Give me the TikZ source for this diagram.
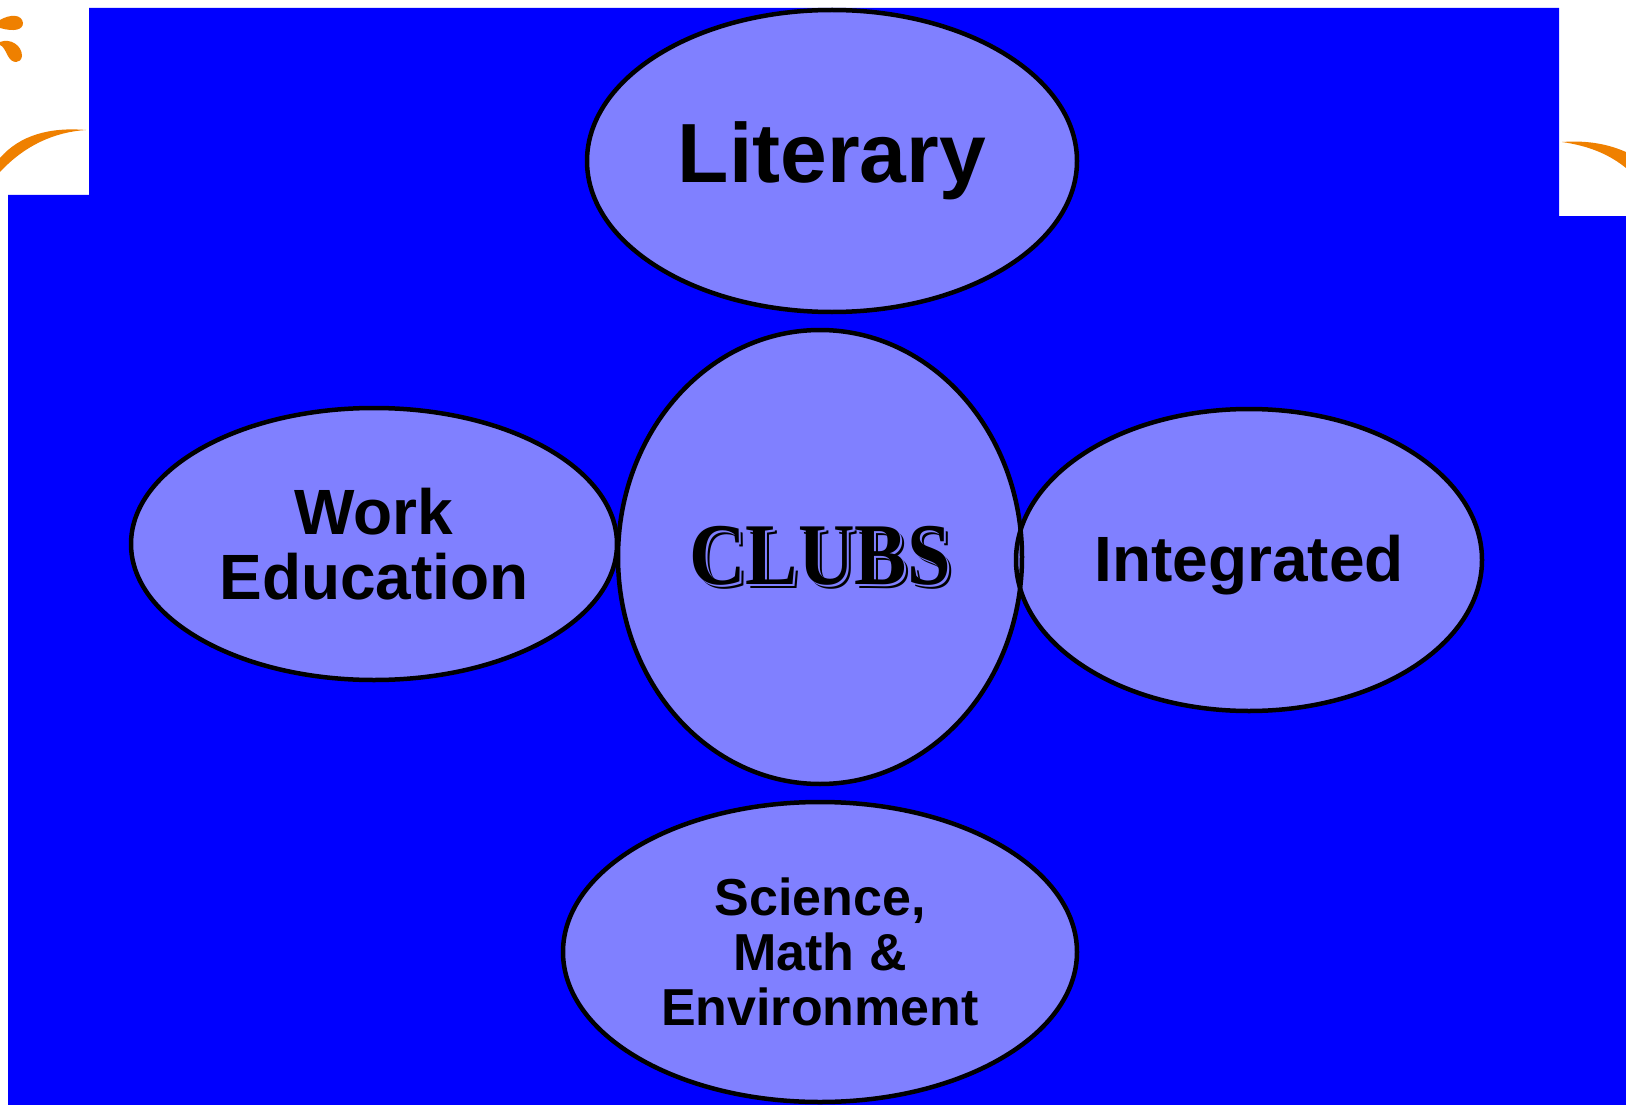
\documentclass[tikz,border=0pt]{standalone}
\usepackage{fontspec}
\setmainfont{Liberation Sans}
\newfontfamily\clubsfont{Liberation Serif}
\usetikzlibrary{shapes.geometric}
\definecolor{bgblue}{HTML}{0000FF}
\definecolor{ellfill}{HTML}{8080FF}
\definecolor{orn}{HTML}{EF8000}
\newcommand{\clubsword}{\scalebox{0.89}[1]{CLUBS}}
\begin{document}
\begin{tikzpicture}[x=1pt,y=-1pt,
  ell/.style={ellipse, fill=ellfill, inner sep=0pt, align=center, text=black},
  outline/.style={line width=4.5pt, draw=black},
  clubstyle/.style={inner sep=0pt, font=\clubsfont\bfseries\fontsize{88}{90}\selectfont}]
\useasboundingbox (0,0) rectangle (1626,1105);
\fill[white] (0,0) rectangle (1626,1105);
% orange ornaments of the slide background
\fill[orn] (0,20) .. controls (10,14) and (22,14) .. (23,23) .. controls (23,30) and (14,32) .. (0,28) -- cycle;
\fill[orn] (0,42) .. controls (10,38) and (22,45) .. (22,56) .. controls (21,64) and (12,64) .. (8,56) .. controls (5,50) and (3,46) .. (0,45) -- cycle;
\fill[orn] (0,158) .. controls (20,135) and (50,127) .. (86,130) .. controls (55,132) and (25,145) .. (0,172) -- cycle;
\fill[orn] (1562,142) .. controls (1590,140) and (1610,145) .. (1626,152) -- (1626,168) .. controls (1610,155) and (1590,146) .. (1562,142) -- cycle;
% blue panel
\fill[bgblue] (89,8) -- (1559,8) -- (1559,216) -- (1626,216) -- (1626,1105) -- (8,1105) -- (8,195) -- (89,195) -- cycle;
% ellipse fills with their texts
\node[ell, minimum width=490pt, minimum height=302pt,
  font=\bfseries\fontsize{84}{88}\selectfont] (lit) at (832,161) {Literary};
\node[ell, minimum width=486pt, minimum height=272pt,
  font=\bfseries\fontsize{64}{65}\selectfont] (work) at (374,544) {Work\\Education};
\node[ell, minimum width=514pt, minimum height=300pt,
  font=\bfseries\fontsize{52}{55}\selectfont] (sci) at (820,952) {Science,\\Math \&\\Environment};
\node[ell, minimum width=466pt, minimum height=302pt,
  font=\bfseries\fontsize{64}{66}\selectfont] (integ) at (1249,560)
  {\raisebox{-5pt}[\height][\depth]{Integrated}};
\node[ell, minimum width=404pt, minimum height=454pt] (clubs) at (820,557) {};
\node[clubstyle] (clubstext) at (820,558)
  {\makebox[0pt][l]{\hspace{4pt}\raisebox{-4pt}{\color{black}\clubsword}}%
   \makebox[0pt][l]{\hspace{2pt}\raisebox{-2pt}{\color{ellfill}\clubsword}}%
   \color{black}\clubsword};
% outlines drawn on top so that every border shows
\draw[outline] (lit.center) ellipse [x radius=245, y radius=151];
\draw[outline] (work.center) ellipse [x radius=243, y radius=136];
\draw[outline] (sci.center) ellipse [x radius=257, y radius=150];
\draw[outline] (integ.center) ellipse [x radius=233, y radius=151];
\draw[outline] (clubs.center) ellipse [x radius=202, y radius=227];
\end{tikzpicture}
\end{document}
